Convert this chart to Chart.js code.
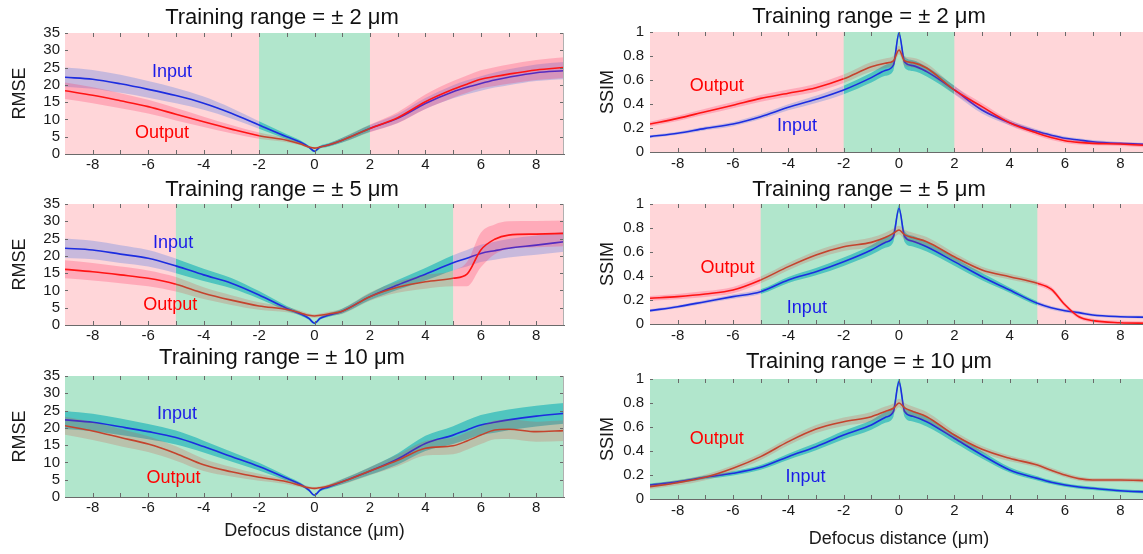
<!DOCTYPE html>
<html><head><meta charset="utf-8">
<script src="https://cdn.jsdelivr.net/npm/chart.js@4.4.1/dist/chart.umd.min.js"></script>
<style>
html,body{margin:0;padding:0;background:#fff;width:1143px;height:554px;overflow:hidden;position:relative}
canvas{position:absolute}
</style></head><body>
<canvas id="c1"></canvas><canvas id="c2"></canvas><canvas id="c3"></canvas>
<canvas id="c4"></canvas><canvas id="c5"></canvas><canvas id="c6"></canvas>
<script>
// ---------- data ----------
const X = [-9,-8,-7,-6,-5,-4,-3,-2,-1,-0.5,-0.2,0,0.2,0.5,1,2,3,4,5,5.5,6,6.5,7,8,9];
const xTickVals = [-8,-6,-4,-2,0,2,4,6,8];
const xMinorTicks = [-8,-7,-6,-5,-4,-3,-2,-1,0,1,2,3,4,5,6,7,8];
const rmseTickVals = [0,5,10,15,20,25,30,35];
const rmseTickLabels = ['0','5','10','15','20','25','30','35'];
const ssimTickVals = [0,0.2,0.4,0.6,0.8,1];
const ssimTickLabels = ['0','0.2','0.4','0.6','0.8','1'];
const trainingRanges = [2,5,10];

const rmse1In    = [22.2,21.6,20.3,18.7,16.9,14.7,11.8,8.4,5.0,3.4,2.0,0.8,2.0,2.6,4.0,7.4,10.3,14.6,18.0,19.3,20.4,21.4,22.2,23.5,24.1];
const rmse1InSd  = [2.8,2.7,2.6,2.4,2.2,1.9,1.5,1.1,0.7,0.5,0.4,0.3,0.4,0.5,0.7,1.0,1.3,1.6,1.9,2.0,2.1,2.2,2.3,2.4,2.5];
const rmse1Out   = [18.3,17.0,15.4,13.7,11.5,9.3,7.2,5.3,4.0,2.9,2.0,1.7,2.0,2.6,4.0,7.4,10.5,15.1,18.7,20.2,21.6,22.4,23.1,24.3,25.0];
const rmse1OutSd = [2.4,2.3,2.2,2.0,1.8,1.5,1.2,0.9,0.6,0.4,0.3,0.3,0.3,0.4,0.7,1.1,1.6,2.1,2.4,2.5,2.6,2.7,2.8,2.9,3.0];

const rmse2In    = [22.2,21.7,20.5,19.3,17.1,14.5,12.1,8.7,4.8,3.2,1.9,0.5,1.9,2.8,4.0,8.2,11.6,14.7,18.0,19.3,20.7,21.5,22.2,23.1,24.1];
const rmse2InSd  = [2.8,2.7,2.6,2.4,2.1,1.8,1.5,1.1,0.7,0.5,0.4,0.3,0.4,0.5,0.7,1.0,1.4,1.8,2.2,2.4,2.5,2.6,2.7,2.8,2.9];
const rmse2Out   = [16.1,15.4,14.5,13.5,11.8,9.2,7.2,5.5,4.5,3.5,2.8,2.6,2.8,3.2,4.0,8.2,10.9,12.5,13.5,14.7,21.7,24.8,26.0,26.3,26.5];
const rmse2OutSd = [2.6,2.5,2.4,2.3,2.1,1.7,1.4,1.1,0.8,0.6,0.5,0.5,0.5,0.6,0.8,1.2,1.6,2.0,2.3,3.5,5.0,4.3,4.0,3.8,3.7];

const rmse3In    = [22.3,21.6,20.3,18.9,17.2,14.6,11.7,8.8,5.4,3.6,2.0,0.5,2.0,2.9,4.4,7.5,11.0,15.5,17.9,19.4,20.8,21.6,22.3,23.4,24.2];
const rmse3InSd  = [2.6,2.5,2.4,2.2,2.0,1.7,1.4,1.1,0.7,0.5,0.4,0.3,0.4,0.5,0.7,1.1,1.6,2.2,2.6,2.8,2.9,3.0,3.0,3.0,3.0];
const rmse3Out   = [20.6,19.1,17.2,15.3,12.6,9.3,7.3,5.7,4.4,3.3,2.7,2.5,2.7,3.2,4.4,7.5,10.6,14.1,14.8,16.2,17.9,19.4,19.6,18.9,19.2];
const rmse3OutSd = [2.6,2.6,2.5,2.3,2.1,1.8,1.4,1.0,0.7,0.5,0.4,0.4,0.4,0.5,0.8,1.2,1.7,2.1,2.4,2.5,2.6,2.7,2.8,2.9,3.0];

const ssim1In  = [0.128,0.156,0.197,0.233,0.294,0.372,0.439,0.517,0.62,0.68,0.725,0.99,0.75,0.72,0.67,0.517,0.35,0.244,0.17,0.14,0.114,0.1,0.086,0.072,0.064];
const ssim1Out = [0.233,0.28,0.336,0.39,0.447,0.49,0.536,0.61,0.71,0.74,0.76,0.85,0.76,0.745,0.70,0.517,0.378,0.244,0.156,0.12,0.094,0.08,0.072,0.067,0.053];
const ssim2In  = [0.111,0.144,0.186,0.228,0.269,0.367,0.436,0.519,0.617,0.68,0.73,0.964,0.73,0.69,0.644,0.52,0.394,0.283,0.172,0.135,0.11,0.095,0.075,0.061,0.056];
const ssim2Out = [0.214,0.228,0.25,0.283,0.367,0.478,0.575,0.644,0.68,0.72,0.756,0.783,0.745,0.72,0.686,0.56,0.45,0.394,0.339,0.29,0.16,0.06,0.028,0.011,0.006];
const ssim3In  = [0.117,0.144,0.181,0.214,0.264,0.353,0.436,0.533,0.617,0.68,0.73,0.978,0.73,0.69,0.644,0.506,0.367,0.242,0.172,0.14,0.117,0.1,0.089,0.069,0.058];
const ssim3Out = [0.103,0.136,0.181,0.256,0.353,0.478,0.583,0.644,0.686,0.73,0.756,0.8,0.76,0.73,0.686,0.533,0.414,0.339,0.283,0.24,0.2,0.17,0.158,0.158,0.153];
const ssimInSd  = [0.012,0.013,0.015,0.018,0.02,0.025,0.03,0.035,0.04,0.045,0.045,0.03,0.045,0.045,0.04,0.035,0.03,0.022,0.018,0.016,0.015,0.014,0.013,0.012,0.012];
const ssimOutSd = [0.02,0.022,0.024,0.026,0.028,0.03,0.033,0.035,0.04,0.04,0.04,0.035,0.04,0.04,0.038,0.032,0.028,0.024,0.02,0.02,0.018,0.017,0.016,0.016,0.015];

// ---------- styles ----------
const FONT = "'Liberation Sans', Arial, sans-serif";
Chart.defaults.font.family = FONT;
const PINK = '#ffd6d9', GREEN = '#b1e6cc';
const COL = {
  inLine: '#1c2de0', outLinePink: '#ff1414', outLineGreen: '#c4432d',
  inBandPink: 'rgba(110,140,225,0.38)', inBandGreen: 'rgba(0,170,180,0.55)',
  outBandPink: 'rgba(255,40,90,0.25)', outBandGreen: 'rgba(215,70,60,0.22)'
};

const panels = [
  {id:'c1', col:'L', metric:'rmse', range:trainingRanges[0], tc:18,  ct:33,  cb:154, bottom:false,
   inp:rmse1In, inpSd:rmse1InSd, out:rmse1Out, outSd:rmse1OutSd, inLab:[-5.14,23.7], outLab:[-5.5,6.1]},
  {id:'c2', col:'L', metric:'rmse', range:trainingRanges[1], tc:190, ct:204, cb:325, bottom:false,
   inp:rmse2In, inpSd:rmse2InSd, out:rmse2Out, outSd:rmse2OutSd, inLab:[-5.1,23.7], outLab:[-5.2,5.8]},
  {id:'c3', col:'L', metric:'rmse', range:trainingRanges[2], tc:358, ct:376, cb:497, bottom:true,
   inp:rmse3In, inpSd:rmse3InSd, out:rmse3Out, outSd:rmse3OutSd, inLab:[-4.96,24.0], outLab:[-5.09,5.5]},
  {id:'c4', col:'R', metric:'ssim', range:trainingRanges[0], tc:17,  ct:32,  cb:152, bottom:false,
   inp:ssim1In, inpSd:ssimInSd, out:ssim1Out, outSd:ssimOutSd, inLab:[-3.69,0.217], outLab:[-6.59,0.55]},
  {id:'c5', col:'R', metric:'ssim', range:trainingRanges[1], tc:190, ct:204, cb:324, bottom:false,
   inp:ssim2In, inpSd:ssimInSd, out:ssim2Out, outSd:ssimOutSd, inLab:[-3.33,0.13], outLab:[-6.2,0.467]},
  {id:'c6', col:'R', metric:'ssim', range:trainingRanges[2], tc:362, ct:379, cb:499, bottom:true,
   inp:ssim3In, inpSd:ssimInSd, out:ssim3Out, outSd:ssimOutSd, inLab:[-3.38,0.183], outLab:[-6.59,0.5]}
];

// ---------- plugins ----------
const regionPlugin = {
  id: 'regions',
  beforeDatasetsDraw(chart, args, opts) {
    const {ctx, chartArea: a, scales: {x}} = chart;
    ctx.save();
    ctx.fillStyle = PINK;
    ctx.fillRect(a.left, a.top, a.right - a.left, a.bottom - a.top);
    const l = Math.max(a.left, x.getPixelForValue(-opts.range));
    const r = Math.min(a.right, x.getPixelForValue(opts.range));
    ctx.fillStyle = GREEN;
    ctx.fillRect(l, a.top, r - l, a.bottom - a.top);
    ctx.restore();
  }
};
const decoPlugin = {
  id: 'deco',
  afterDatasetsDraw(chart, args, opts) {
    const {ctx, scales: {x, y}} = chart;
    ctx.save();
    ctx.font = "18px " + FONT;
    ctx.textAlign = 'center'; ctx.textBaseline = 'middle';
    ctx.fillStyle = '#1a1ae8';
    ctx.fillText('Input', x.getPixelForValue(opts.inLab[0]), y.getPixelForValue(opts.inLab[1]));
    ctx.fillStyle = '#ff0000';
    ctx.fillText('Output', x.getPixelForValue(opts.outLab[0]), y.getPixelForValue(opts.outLab[1]));
    ctx.restore();
  },
  afterDraw(chart, args, opts) {
    const {ctx, chartArea: a, scales: {x, y}} = chart;
    ctx.save();
    ctx.strokeStyle = '#6a6a6a'; ctx.lineWidth = 1;
    ctx.beginPath();
    for (const v of xMinorTicks) {
      const px = Math.round(x.getPixelForValue(v)) + 0.5;
      ctx.moveTo(px, a.bottom); ctx.lineTo(px, a.bottom - 4);
      ctx.moveTo(px, a.top); ctx.lineTo(px, a.top + 4);
    }
    for (const v of opts.yTicks) {
      const py = Math.round(y.getPixelForValue(v)) + 0.5;
      ctx.moveTo(a.right, py); ctx.lineTo(a.right - 4, py);
      ctx.moveTo(a.left, py); ctx.lineTo(a.left + 3, py);
    }
    ctx.stroke();
    ctx.strokeStyle = '#b0b0b0';
    ctx.beginPath();
    ctx.moveTo(Math.round(a.right) - 0.5, a.top); ctx.lineTo(Math.round(a.right) - 0.5, a.bottom);
    ctx.stroke();
    ctx.restore();
  }
};

function inRange(c, r) {
  const m = (c.p0.parsed.x + c.p1.parsed.x) / 2;
  return Math.abs(m) <= r + 1e-9;
}

function makeChart(p) {
  const isL = p.col === 'L';
  const geo = isL
    ? {left:0,   width:575, yW:65, padR:11, yTitlePad:9.2, tickPad:5, xTitlePad:3.2, xLabelPad:2, xhB:48}
    : {left:590, width:560, yW:60, padR:2,  yTitlePad:7.2, tickPad:6, xTitlePad:0.7, xLabelPad:3, xhB:52};
  const T = Math.floor(p.tc - 13.2);
  const tpTop = p.tc - 13.2 - T;
  const tpBottom = p.ct - p.tc - 13.2;
  const xh = p.bottom ? geo.xhB : 22;
  const H = p.cb - T + xh;
  const cv = document.getElementById(p.id);
  cv.width = geo.width; cv.height = H;
  cv.style.left = geo.left + 'px'; cv.style.top = T + 'px';
  cv.style.width = geo.width + 'px'; cv.style.height = H + 'px';

  const isR = p.metric === 'rmse';
  const yTicks = isR ? rmseTickVals : ssimTickVals;
  const yLabels = isR ? rmseTickLabels : ssimTickLabels;
  const r = p.range;
  const pts = (m, sd, s) => X.map((xv, i) => ({x: xv, y: m[i] + s * (sd ? sd[i] : 0)}));
  const base = {pointRadius: 0, pointHoverRadius: 0, cubicInterpolationMode: 'monotone'};

  const datasets = [
    {...base, label:'inLow', data: pts(p.inp, p.inpSd, -1), borderWidth: 0, borderColor: 'rgba(0,0,0,0)', fill: false, order: 6},
    {...base, label:'inUp', data: pts(p.inp, p.inpSd, 1), borderWidth: 0, borderColor: 'rgba(0,0,0,0)',
      fill: '-1', backgroundColor: COL.inBandPink, order: 5,
      segment: {backgroundColor: c => inRange(c, r) ? COL.inBandGreen : COL.inBandPink}},
    {...base, label:'Input', data: pts(p.inp, null, 0), borderWidth: 1.6, borderColor: COL.inLine, fill: false, order: 4},
    {...base, label:'outLow', data: pts(p.out, p.outSd, -1), borderWidth: 0, borderColor: 'rgba(0,0,0,0)', fill: false, order: 3},
    {...base, label:'outUp', data: pts(p.out, p.outSd, 1), borderWidth: 0, borderColor: 'rgba(0,0,0,0)',
      fill: '-1', backgroundColor: COL.outBandPink, order: 2,
      segment: {backgroundColor: c => inRange(c, r) ? COL.outBandGreen : COL.outBandPink}},
    {...base, label:'Output', data: pts(p.out, null, 0), borderWidth: 1.6, borderColor: COL.outLinePink, fill: false, order: 1,
      segment: {borderColor: c => inRange(c, r) ? COL.outLineGreen : COL.outLinePink}}
  ];

  const tickFont = {family: FONT, size: 15};
  new Chart(cv, {
    type: 'line',
    data: {datasets},
    options: {
      responsive: false, animation: false, devicePixelRatio: 1,
      events: [],
      layout: {padding: {left: 0, right: geo.padR, top: 0, bottom: 0}},
      plugins: {
        legend: {display: false}, tooltip: {enabled: false},
        title: {display: true, text: 'Training range = ± ' + r + ' μm', color: '#111',
          font: {family: FONT, size: 22, weight: 'normal', lineHeight: 1.2},
          padding: {top: tpTop, bottom: tpBottom}},
        regions: {range: r},
        deco: {inLab: p.inLab, outLab: p.outLab, yTicks}
      },
      scales: {
        x: {
          type: 'linear', min: -9, max: 9, z: 1,
          afterBuildTicks: s => { s.ticks = xTickVals.map(v => ({value: v})); },
          afterFit: s => { s.height = xh; },
          grid: {display: false, drawTicks: false},
          border: {display: true, color: '#6a6a6a', width: 1},
          ticks: {font: tickFont, color: '#1a1a1a', padding: geo.xLabelPad, maxRotation: 0, autoSkip: false},
          title: {display: p.bottom, text: 'Defocus distance (μm)', color: '#1a1a1a',
            font: {family: FONT, size: 18, lineHeight: 1.2}, padding: {top: 0, bottom: geo.xTitlePad}}
        },
        y: {
          type: 'linear', min: 0, max: isR ? 35 : 1, z: 1,
          afterBuildTicks: s => { s.ticks = yTicks.map(v => ({value: v})); },
          afterFit: s => { s.width = geo.yW; },
          grid: {display: false, drawTicks: false},
          border: {display: true, color: '#6a6a6a', width: 1},
          ticks: {font: tickFont, color: '#1a1a1a', padding: geo.tickPad, autoSkip: false,
            callback: (v, i) => yLabels[i]},
          title: {display: true, text: isR ? 'RMSE' : 'SSIM', color: '#1a1a1a',
            font: {family: FONT, size: 18, lineHeight: 1.2}, padding: {top: geo.yTitlePad, bottom: 0}}
        }
      }
    },
    plugins: [regionPlugin, decoPlugin]
  });
}
panels.forEach(makeChart);
</script>
</body></html>
